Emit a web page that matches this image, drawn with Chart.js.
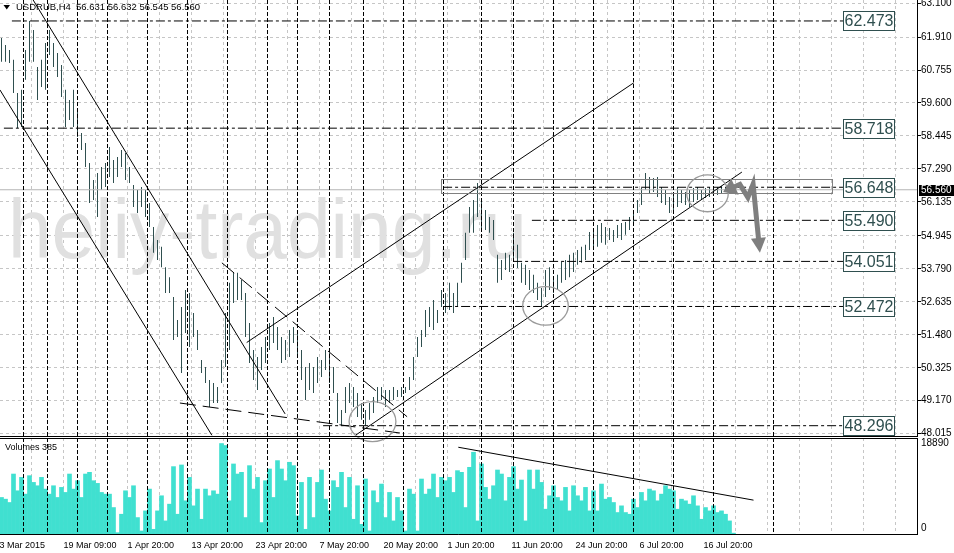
<!DOCTYPE html>
<html>
<head>
<meta charset="utf-8">
<script src="https://cdn.jsdelivr.net/npm/chart.js@4.4.1/dist/chart.umd.min.js"></script>
<style>
html, body { margin: 0; padding: 0; background: #fff; }
#wrap { position: relative; width: 954px; height: 553px; }
canvas { position: absolute; left: 0; top: 0; }
</style>
</head>
<body>
<div id="wrap">
  <canvas id="price" width="954" height="553"></canvas>
  <canvas id="vol" width="954" height="553"></canvas>
</div>
<script>
// USDRUB H4, bars (index = bar number from the left edge)
const symbol = 'USDRUB,H4';
const lastBar = [56.631, 56.632, 56.545, 56.560]; // O H L C of the current bar

const barHigh = [
  61.88,61.63,61.46,61.11,59.95,60.06,61.46,62.47,62.16,60.86,
  61.11,61.70,62.16,61.70,61.35,60.93,60.06,59.70,60.06,59.35,
  58.55,58.20,57.50,56.90,57.15,57.36,57.50,58.06,57.60,57.71,
  57.95,57.85,57.36,56.73,56.55,56.66,56.55,56.10,55.26,54.80,
  54.56,53.85,53.50,52.80,52.00,52.45,53.05,52.94,52.24,51.65,
  50.60,50.35,49.90,49.79,49.65,50.60,52.24,53.30,53.65,53.65,
  53.40,52.94,51.89,50.95,50.70,51.05,51.40,51.89,52.10,51.75,
  51.40,51.30,51.65,51.75,51.65,50.95,50.35,50.49,50.35,50.70,
  50.60,50.95,50.84,50.35,49.44,48.85,49.65,49.79,49.65,49.44,
  49.09,48.85,49.09,49.30,49.65,49.65,49.55,49.55,49.65,49.55,
  49.65,49.65,50.00,50.70,51.40,51.65,52.35,52.45,52.70,52.35,
  53.05,52.94,53.30,52.94,53.30,54.00,55.05,55.96,56.20,56.80,
  56.20,55.85,55.61,55.50,54.28,54.10,54.35,54.28,55.05,54.63,
  54.00,53.93,53.75,53.58,53.30,53.12,53.75,53.85,53.50,53.58,
  54.03,54.10,54.28,54.35,54.45,54.56,54.63,55.08,55.15,55.33,
  55.40,55.26,55.22,55.15,55.33,55.40,55.43,55.61,55.78,56.20,
  56.62,57.15,57.01,56.97,57.01,56.66,56.55,56.31,56.38,56.66,
  56.55,56.48,56.55,56.62,56.66,56.55,56.62,56.66,56.69,56.66,
  56.69,56.66,56.69,56.632
];
const barLow = [
  61.04,61.04,61.00,59.95,58.72,58.76,60.41,61.04,61.04,59.70,
  60.16,60.06,61.28,60.86,60.51,59.81,58.76,59.00,58.76,58.41,
  57.95,57.36,56.10,56.20,55.61,56.55,56.66,57.01,56.80,57.01,
  57.36,56.90,56.80,55.96,55.75,55.96,55.61,55.26,54.35,54.10,
  53.85,52.94,52.94,51.30,51.40,50.14,51.54,51.05,51.40,50.95,
  50.14,49.79,48.95,49.09,49.09,49.79,50.35,50.95,52.59,52.70,
  52.70,51.40,50.49,49.90,49.55,50.25,50.49,50.95,51.19,50.95,
  50.49,50.60,50.70,51.19,50.70,49.90,49.20,49.55,49.44,49.79,
  50.00,50.25,49.79,49.44,48.39,48.30,48.74,49.09,48.95,48.60,
  48.50,48.30,48.50,48.74,49.09,49.20,48.95,49.09,49.20,49.30,
  49.30,49.44,49.55,49.90,50.70,51.05,51.40,51.75,51.65,51.89,
  52.45,52.24,52.35,52.24,52.45,53.30,54.10,55.05,55.05,55.61,
  55.15,55.15,55.05,54.80,53.30,53.40,53.75,53.68,54.03,53.82,
  53.30,53.22,53.05,52.94,52.70,52.47,52.80,53.05,52.94,53.05,
  53.30,53.40,53.50,53.68,53.93,54.00,54.10,54.45,54.52,54.56,
  54.70,54.63,54.80,54.73,54.87,54.80,54.98,55.15,55.29,55.75,
  56.03,56.55,56.45,56.48,56.31,56.10,56.03,55.75,55.78,55.96,
  56.10,56.03,55.96,56.13,56.20,56.20,56.27,56.31,56.34,56.38,
  56.45,56.48,56.52,56.545
];
const volumes = [
  7750,7400,6710,12590,9130,11900,8440,12250,10860,10170,
  11900,9480,8440,10170,7750,9830,8790,12590,9480,11210,
  7750,12590,12940,11210,10660,8790,8440,8440,5670,480,
  4290,9130,7750,10170,3600,830,4980,9480,1180,4980,
  8100,2910,6370,14120,4290,14460,7060,11900,6020,9480,
  3250,9480,8100,9130,8440,18890,18480,7060,14670,12590,
  12940,3600,14320,9480,11900,2560,11210,13630,7750,15360,
  13630,11210,15020,14320,3940,10860,1180,11900,3600,10860,
  13420,7400,4980,11210,9830,12940,5670,11900,3250,10170,
  2210,11560,830,9130,6710,10520,3600,8790,2910,7750,
  4980,830,9480,8440,830,11560,8440,9480,12590,7750,
  11900,11210,11900,8790,13290,12940,5670,13980,17090,2910,
  14670,9830,7400,10170,13420,12590,7060,11900,14120,9480,
  11350,2910,13420,9480,13420,10860,5330,8100,10170,7750,
  7060,9830,4980,10170,8100,7060,9830,4980,9130,4980,
  10520,7400,7750,6710,4640,6020,4640,4290,7400,5670,
  8790,7060,9480,9130,7060,8440,10170,9480,9130,5330,
  7400,7060,6370,8100,6020,3250,5670,4980,6020,4640,
  4980,4290,2910,385
];

const priceTicks = [63.100, 61.910, 60.755, 59.600, 58.445, 57.290, 56.135, 54.945, 53.790, 52.635, 51.480, 50.325, 49.170, 48.015];
const timeLabels = ['3 Mar 2015', '19 Mar 09:00', '1 Apr 20:00', '13 Apr 20:00', '23 Apr 20:00', '7 May 20:00',
  '20 May 20:00', '1 Jun 20:00', '11 Jun 20:00', '24 Jun 20:00', '6 Jul 20:00', '16 Jul 20:00'];
const volTicks = [18890, 1450];
const volTickLabels = ['18890', '0'];

// drawn objects, in (bar index, price)
const levelPrices = [62.473, 58.718, 56.648, 55.490, 54.051, 52.472, 48.296];
const levelStart = [2.6, 0.6, 110.4, 132.6, 127.9, 110.4, 80.4];
const levelLabelAt = 210.4;
const trendLines = [
  [[7.9, 63.21], [70.9, 48.71]],     // falling channel, top
  [[-0.4, 60.06], [52.6, 47.96]],    // falling channel, bottom
  [[55.1, 54.00], [101.4, 48.61]],   // falling wedge, top
  [[44.6, 49.09], [99.6, 48.04]],    // falling wedge, bottom
  [[61.3, 51.21], [158.1, 60.31]],   // rising channel, top
  [[88.6, 47.97], [185.1, 57.18]]    // rising channel, bottom
];
const trendDash = [[], [], [16, 7], [16, 7], [], []];
const weekLines = [5.5, 11.5, 19, 26.5, 36.5, 46.5, 56.5, 66.5, 74, 82, 90.5, 100.5, 110.5, 120, 128, 138, 148, 158, 168, 178, 193];
const zoneBox = [109.9, 56.93, 207.6, 56.44];
const circles = [[86.9, 49.14, 98.6, 47.74], [130.3, 53.17, 141.7, 51.82], [171.3, 57.08, 181.7, 55.79]];
const arrowPath = [[180.4, 56.48], [184.6, 56.75], [186.6, 56.29], [187.9, 56.76], [189.6, 54.35]];
const volTrend = [[114.2, 18120], [188, 7200]];
const watermark = { text: 'heliy-trading.ru', at: [1.6, 54.17] };

const xMin = -0.375, xMax = 229.125;
const gridTicks = [];
for (let k = 0; k <= 28; k++) gridTicks.push(8 * k - 0.5);

const FONT = '"Liberation Sans", Arial, sans-serif';
const GRID = '#c6c6c6';
const BAR = '#2f4f4f';

function xScale(extra) {
  return Object.assign({
    type: 'linear', min: xMin, max: xMax, offset: false,
    afterBuildTicks: s => { s.ticks = gridTicks.map(v => ({ value: v })); },
    grid: { color: GRID, offset: false, drawTicks: false },
    border: { display: false, dash: [3, 3] }
  }, extra);
}

function weekSeparators(chart) {
  const { ctx, chartArea: a, scales: { x } } = chart;
  ctx.save();
  ctx.strokeStyle = '#000';
  ctx.lineWidth = 1;
  ctx.setLineDash([4, 2]);
  weekLines.forEach(w => {
    const px = Math.round(x.getPixelForValue(w) - 0.5) + 0.5;
    ctx.beginPath(); ctx.moveTo(px, a.top); ctx.lineTo(px, a.bottom); ctx.stroke();
  });
  ctx.restore();
}

function panelBorder(chart, top) {
  const { ctx, chartArea: a } = chart;
  ctx.save();
  ctx.strokeStyle = '#000';
  ctx.lineWidth = 1;
  ctx.beginPath();
  if (top) { ctx.moveTo(a.left, a.top + 0.5); ctx.lineTo(a.right, a.top + 0.5); }
  ctx.moveTo(a.left, a.bottom - 0.5); ctx.lineTo(a.right - 0.5, a.bottom - 0.5);
  ctx.moveTo(a.right - 0.5, a.top); ctx.lineTo(a.right - 0.5, a.bottom);
  ctx.stroke();
  ctx.restore();
}

const priceDecor = {
  id: 'priceDecor',
  beforeDatasetsDraw(chart) {
    const { ctx, scales: { x, y } } = chart;
    ctx.save();
    ctx.font = '84px ' + FONT;
    ctx.fillStyle = '#e0e0e0';
    ctx.textBaseline = 'alphabetic';
    ctx.fillText(watermark.text, x.getPixelForValue(watermark.at[0]), y.getPixelForValue(watermark.at[1]), 519);
    ctx.restore();
  },
  afterDatasetsDraw(chart) {
    const { ctx, chartArea: a, scales: { x, y } } = chart;
    weekSeparators(chart);
    ctx.save();
    // price zone
    ctx.strokeStyle = '#808080';
    ctx.lineWidth = 1;
    const rx1 = Math.round(x.getPixelForValue(zoneBox[0])) + 0.5, rx2 = Math.round(x.getPixelForValue(zoneBox[2])) + 0.5;
    const ry1 = Math.round(y.getPixelForValue(zoneBox[1])) + 0.5, ry2 = Math.round(y.getPixelForValue(zoneBox[3])) + 0.5;
    ctx.strokeRect(rx1, ry1, rx2 - rx1, ry2 - ry1);
    // circles
    ctx.strokeStyle = '#9a9a9a';
    ctx.lineWidth = 1.3;
    circles.forEach(c => {
      const x1 = x.getPixelForValue(c[0]), x2 = x.getPixelForValue(c[2]);
      const y1 = y.getPixelForValue(c[1]), y2 = y.getPixelForValue(c[3]);
      ctx.beginPath();
      ctx.ellipse((x1 + x2) / 2, (y1 + y2) / 2, Math.abs(x2 - x1) / 2, Math.abs(y2 - y1) / 2, 0, 0, Math.PI * 2);
      ctx.stroke();
    });
    // forecast arrow
    const pts = arrowPath.map(p => [x.getPixelForValue(p[0]), y.getPixelForValue(p[1])]);
    ctx.fillStyle = '#7f7f7f';
    ctx.strokeStyle = '#7f7f7f';
    const head = (tip, from, len, half) => {
      const dx = tip[0] - from[0], dy = tip[1] - from[1], d = Math.hypot(dx, dy);
      const ux = dx / d, uy = dy / d, bx = tip[0] - ux * len, by = tip[1] - uy * len;
      ctx.beginPath();
      ctx.moveTo(tip[0], tip[1]);
      ctx.lineTo(bx - uy * half, by + ux * half);
      ctx.lineTo(bx + uy * half, by - ux * half);
      ctx.closePath(); ctx.fill();
      return [bx + ux * 1, by + uy * 1];
    };
    const n = pts.length;
    const b0 = head(pts[0], pts[1], 13, 9);
    const b1 = head(pts[n - 1], pts[n - 2], 15, 7.5);
    ctx.lineWidth = 5;
    ctx.lineJoin = 'miter';
    ctx.beginPath();
    ctx.moveTo(b0[0], b0[1]);
    for (let i = 1; i < n - 1; i++) ctx.lineTo(pts[i][0], pts[i][1]);
    ctx.lineTo(b1[0], b1[1]);
    ctx.stroke();
    // level labels
    ctx.font = '16px ' + FONT;
    ctx.textAlign = 'center';
    ctx.textBaseline = 'middle';
    ctx.lineWidth = 1;
    levelPrices.forEach(p => {
      const bx = Math.round(x.getPixelForValue(levelLabelAt)), by = Math.round(y.getPixelForValue(p) - 9.5);
      ctx.fillStyle = '#fff';
      ctx.fillRect(bx, by, 51, 19);
      ctx.strokeStyle = BAR;
      ctx.strokeRect(bx + 0.5, by + 0.5, 51, 19);
      ctx.fillStyle = BAR;
      ctx.fillText(p.toFixed(3), bx + 26, by + 10.5);
    });
    // header
    ctx.fillStyle = '#000';
    ctx.beginPath();
    ctx.moveTo(a.left + 3.5, 5); ctx.lineTo(a.left + 10, 5); ctx.lineTo(a.left + 6.75, 9.5); ctx.closePath(); ctx.fill();
    ctx.font = '9.5px ' + FONT;
    ctx.textAlign = 'left';
    ctx.fillText(symbol, a.left + 16, 7.5);
    ctx.fillText(lastBar.map(v => v.toFixed(3)).join(' '), a.left + 76, 7.5);
    ctx.restore();
    panelBorder(chart, false);
  },
  afterDraw(chart) {
    const { ctx, chartArea: a, scales: { y } } = chart;
    const py = Math.round(y.getPixelForValue(lastBar[3]));
    ctx.save();
    ctx.fillStyle = '#000';
    ctx.fillRect(a.right + 1, py - 5, chart.width - a.right - 1, 11);
    ctx.fillStyle = '#fff';
    ctx.font = '10px ' + FONT;
    ctx.textBaseline = 'middle';
    ctx.fillText(lastBar[3].toFixed(3), a.right + 3, py + 0.5);
    ctx.restore();
  }
};

const volDecor = {
  id: 'volDecor',
  afterDatasetsDraw(chart) {
    const { ctx, chartArea: a } = chart;
    weekSeparators(chart);
    ctx.save();
    ctx.fillStyle = '#000';
    ctx.font = '9px ' + FONT;
    ctx.textBaseline = 'middle';
    ctx.fillText('Volumes ' + volumes[volumes.length - 1], a.left + 5, a.top + 9.5);
    ctx.restore();
    panelBorder(chart, true);
  }
};

const lineSets = [];
trendLines.forEach((ln, k) => lineSets.push({
  type: 'line', data: ln.map(p => ({ x: p[0], y: p[1] })),
  borderColor: '#000', borderWidth: 1, borderDash: trendDash[k], pointRadius: 0, tension: 0, order: 1
}));
levelPrices.forEach((p, k) => lineSets.push({
  type: 'line', data: [{ x: levelStart[k], y: p }, { x: levelLabelAt, y: p }],
  borderColor: '#000', borderWidth: 1, borderDash: [9, 3, 3, 3], pointRadius: 0, order: 1
}));
lineSets.push({
  type: 'line', data: [{ x: xMin, y: lastBar[3] }, { x: xMax, y: lastBar[3] }],
  borderColor: '#b4b4b4', borderWidth: 1, pointRadius: 0, order: 2
});

new Chart(document.getElementById('price'), {
  type: 'bar',
  data: {
    datasets: lineSets.concat([{
      type: 'bar',
      data: barHigh.map((h, i) => ({ x: i, y: [barLow[i], h] })),
      backgroundColor: BAR, barThickness: 1, grouped: false, inflateAmount: 0, order: 10
    }])
  },
  options: {
    responsive: false, animation: false, events: [],
    layout: { padding: { left: 0, right: 0, top: 0, bottom: 116 } },
    plugins: { legend: { display: false }, tooltip: { enabled: false } },
    scales: {
      x: xScale({
        ticks: { display: false },
        afterFit: s => { s.height = 0; s.paddingLeft = 0; s.paddingRight = 0; }
      }),
      y: {
        type: 'linear', position: 'right', min: 47.900, max: 63.207,
        afterBuildTicks: s => { s.ticks = priceTicks.map(v => ({ value: v })); },
        ticks: { callback: v => v.toFixed(3), color: '#000', font: { family: FONT, size: 10 }, padding: 0 },
        grid: { color: GRID, tickColor: '#000', tickLength: 3 },
        border: { display: false, dash: [3, 3] },
        afterFit: s => { s.width = 36; s.paddingTop = 0; s.paddingBottom = 0; }
      }
    }
  },
  plugins: [priceDecor]
});

new Chart(document.getElementById('vol'), {
  type: 'bar',
  data: {
    datasets: [
      {
        type: 'line', data: volTrend.map(p => ({ x: p[0], y: p[1] })),
        borderColor: '#000', borderWidth: 1, pointRadius: 0, order: 1
      },
      {
        type: 'bar', data: volumes.map((v, i) => ({ x: i, y: v })),
        backgroundColor: '#40e0d0', barThickness: 4, grouped: false, order: 10
      }
    ]
  },
  options: {
    responsive: false, animation: false, events: [],
    layout: { padding: { left: 0, right: 0, top: 438, bottom: 0 } },
    plugins: { legend: { display: false }, tooltip: { enabled: false } },
    scales: {
      x: xScale({
        ticks: {
          autoSkip: false, maxRotation: 0, minRotation: 0, align: 'start', padding: 5, color: '#000',
          font: { family: FONT, size: 9 },
          callback: (v, i) => (i % 2 === 0 && timeLabels[i / 2]) ? timeLabels[i / 2] : ''
        },
        afterFit: s => { s.height = 18; s.paddingLeft = 0; s.paddingRight = 0; }
      }),
      y: {
        type: 'linear', position: 'right', min: 0, max: 20030,
        afterBuildTicks: s => { s.ticks = volTicks.map(v => ({ value: v })); },
        ticks: { callback: (v, i) => volTickLabels[i], color: '#000', font: { family: FONT, size: 10 }, padding: 3 },
        grid: { display: false, drawTicks: false },
        border: { display: false },
        afterFit: s => { s.width = 36; s.paddingTop = 0; s.paddingBottom = 0; }
      }
    }
  },
  plugins: [volDecor]
});
</script>
</body>
</html>
